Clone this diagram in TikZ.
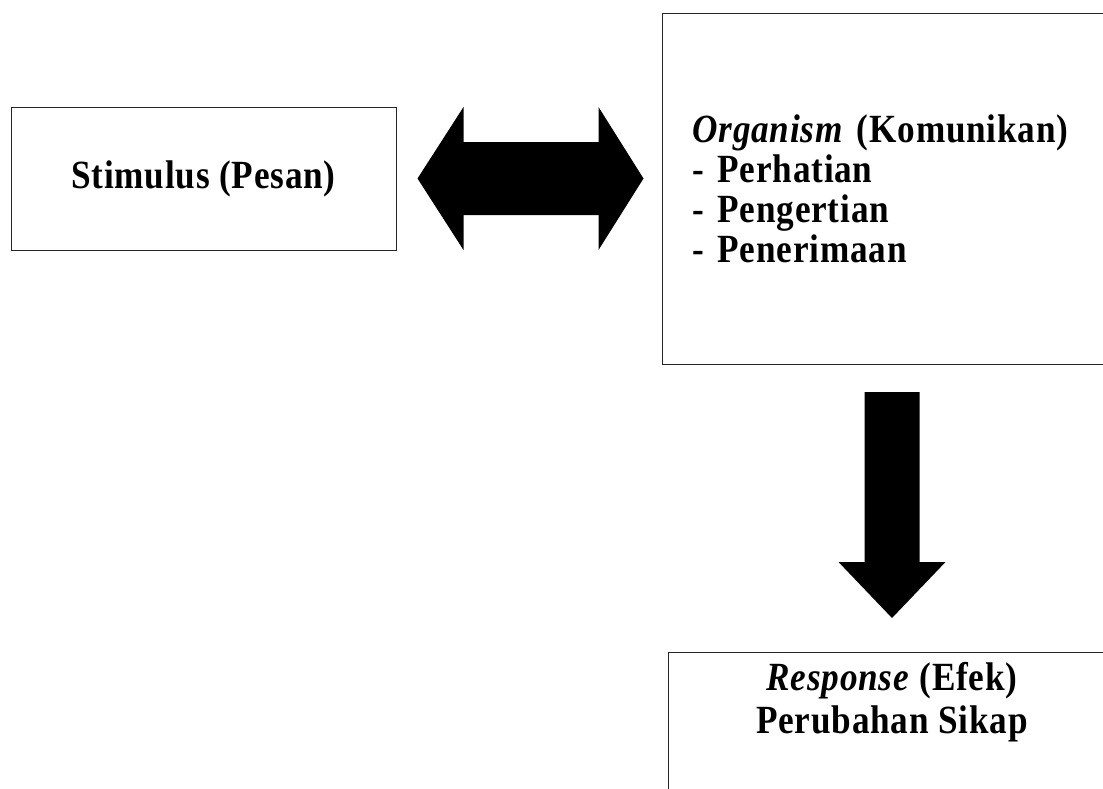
\documentclass[tikz,border=0pt]{standalone}
\usepackage{fontspec}
\setmainfont{Liberation Serif}[FakeStretch=0.88, LetterSpace=2]
\usepackage{tikz}
\usetikzlibrary{calc}

\tikzset{
  box/.style={draw=black!85, line width=1pt, inner sep=0pt},
  bigarrow/.style={fill=black},
  txt/.style={font=\fontsize{40}{40}\selectfont\bfseries}
}

\begin{document}
\begin{tikzpicture}[x=1pt, y=-1pt]
  \useasboundingbox (0,0) rectangle (1103,788);
  \clip (0,0) rectangle (1103,788);
  % boxes
  \node[box, txt, minimum width=385, minimum height=143] (stimulus) at (203.5,178.5) {Stimulus (Pesan)};
  \node[box, txt, anchor=north west, text width=420, inner xsep=30, align=left, minimum height=351] (organism) at (662,13)
    {\textit{Organism} (Komunikan)\\- Perhatian\\- Pengertian\\- Penerimaan};
  \node[box, txt, anchor=north, minimum width=448, inner ysep=10, align=center, text depth=150] (response) at (892,652)
    {\textit{Response} (Efek)\\[3pt]Perubahan Sikap};
  % fat arrows
  \coordinate (dleft) at ([xshift=21pt]stimulus.east);
  \fill[bigarrow] (dleft) -- ++(46,-71.5) -- ++(0,35) -- ++(135,0) -- ++(0,-35) -- ++(45,71.5)
    -- ++(-45,71.5) -- ++(0,-35) -- ++(-135,0) -- ++(0,35) -- cycle;
  \coordinate (dtop) at ([yshift=-27pt]organism.south -| response.north);
  \fill[bigarrow] (dtop) ++(-27.5,0) -- ++(55,0) -- ++(0,170) -- ++(26,0) -- ++(-53.5,56)
    -- ++(-53.5,-56) -- ++(26,0) -- cycle;
\end{tikzpicture}
\end{document}
